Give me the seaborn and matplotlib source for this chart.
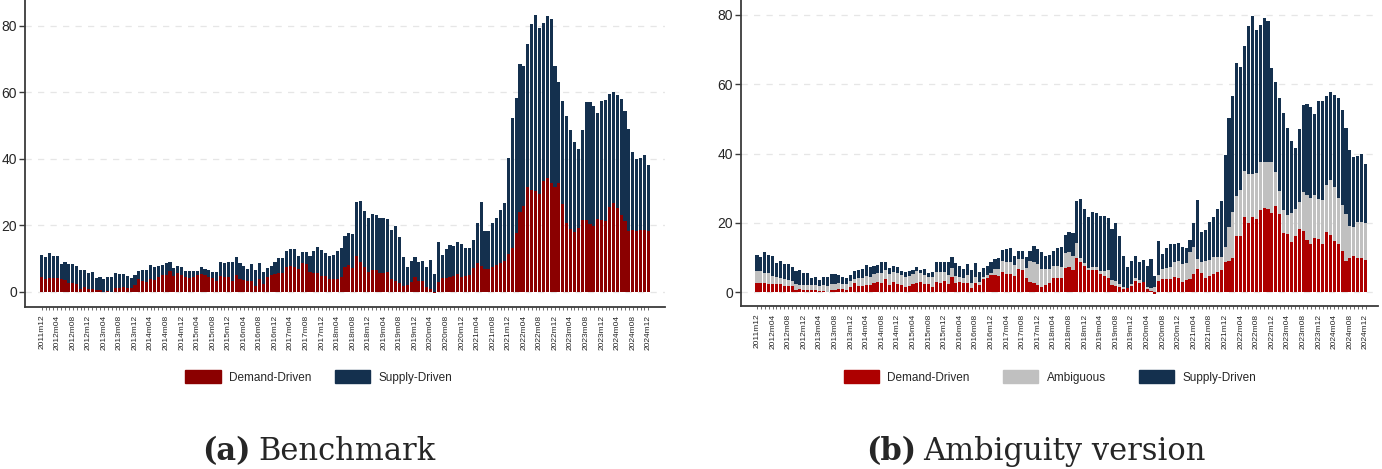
import numpy as np
import pandas as pd
import matplotlib
matplotlib.use("Agg")
import matplotlib.pyplot as plt
from matplotlib.patches import Patch
import seaborn as sns

sns.set_style("white")
plt.rcParams['font.family'] = ['Liberation Sans', 'DejaVu Sans']

# months 2011m12 .. 2024m12
months = pd.period_range("2011-12", "2024-12", freq="M")
month_labels = [f"{p.year}m{p.month:02d}" for p in months]
tick_labels = month_labels[::4]

# (a) Benchmark
bench_demand = [
    4.3, 3.7, 4.2, 4.0, 4.1, 3.8, 3.6, 2.5, 2.6, 2.3,
    0.9, 1.3, 0.7, 0.7, 0.5, 0.6, -0.1, 0.2, -0.2, 1.1,
    1.2, 1.5, 1.2, 1.1, 2.0, 3.7, 3.2, 2.9, 3.7, 3.6,
    4.3, 5.0, 5.1, 6.3, 4.8, 5.7, 5.1, 4.3, 4.2, 4.5,
    4.9, 5.3, 4.9, 4.5, 4.1, 3.3, 4.8, 4.4, 4.5, 3.2,
    5.0, 3.7, 3.6, 3.2, 3.2, 1.6, 3.7, 2.4, 4.3, 5.0,
    5.4, 5.6, 5.6, 7.4, 7.8, 7.5, 6.9, 8.6, 8.4, 6.0,
    5.7, 5.7, 4.7, 4.8, 3.8, 3.7, 3.9, 4.4, 7.5,
    7.9, 7.2, 10.8, 9.0, 7.5, 6.0, 6.6, 6.6, 5.6, 5.7,
    6.0, 3.7, 3.2, 2.5, 1.8, 2.0, 2.9, 4.5, 3.2, 3.3,
    1.4, 0.9, -0.4, 3.0, 4.1, 4.1, 4.3, 4.8, 5.3, 4.4,
    4.8, 5.0, 7.2, 8.7, 7.8, 6.7, 6.9, 7.5, 7.9, 8.7,
    9.1, 11.4, 13.2, 17.5, 23.9, 25.9, 31.5, 30.6, 30.2, 29.5,
    33.3, 34.1, 32.7, 31.4, 32.7, 26.5, 20.7, 18.8, 17.8, 19.2,
    21.7, 21.5, 20.4, 19.8, 21.8, 21.5, 21.2, 25.4, 26.7, 25.2,
    23.2, 21.2, 18.3, 18.6, 18.1, 18.6, 18.5, 18.3,
]
bench_supply = [
    6.6, 6.8, 7.3, 6.7, 6.6, 4.5, 5.3, 5.7, 5.6, 5.3,
    5.6, 5.2, 5.0, 5.2, 3.7, 3.8, 3.8, 4.3, 4.5, 4.4,
    4.1, 3.7, 3.4, 3.1, 3.0, 2.5, 3.3, 3.7, 4.2, 3.9,
    3.4, 3.0, 3.6, 2.6, 2.4, 2.0, 2.3, 1.9, 1.9, 1.7,
    1.4, 2.2, 1.8, 2.1, 1.7, 2.7, 4.0, 4.2, 4.4, 5.7,
    5.4, 4.9, 4.1, 3.5, 5.1, 5.0, 4.9, 3.6, 2.9, 2.8,
    3.5, 4.4, 4.5, 4.9, 4.9, 5.4, 3.8, 3.3, 3.6, 4.7,
    6.5, 7.6, 7.8, 6.8, 6.9, 7.2, 8.4, 8.7, 9.2,
    9.6, 10.0, 16.2, 18.2, 16.9, 16.2, 16.8, 16.4, 16.6, 16.5,
    15.8, 14.8, 16.7, 13.8, 8.6, 5.4, 6.2, 5.9, 5.6, 6.0,
    6.1, 8.5, 5.3, 11.8, 6.9, 8.6, 9.6, 9.0, 9.5, 9.8,
    8.3, 8.0, 8.3, 11.9, 19.3, 11.4, 11.3, 13.2, 14.4, 15.8,
    17.6, 28.9, 39.0, 40.8, 44.6, 41.9, 43.0, 49.8, 53.0, 49.7,
    47.6, 48.8, 49.2, 36.5, 30.2, 30.7, 32.1, 29.7, 27.3, 23.7,
    26.9, 35.4, 36.5, 36.0, 31.8, 35.8, 36.4, 33.9, 33.4, 33.9,
    34.7, 33.0, 30.5, 23.4, 21.9, 21.7, 22.5, 19.8,
]

# (b) Ambiguity version
amb_demand = [
    2.8, 2.6, 2.6, 2.5, 2.5, 2.5, 2.3, 1.9, 1.9, 1.8,
    0.6, 0.9, 0.8, 0.8, 0.8, 0.7, 0.3, 0.5, 0.2, 0.7,
    0.7, 1.0, 0.9, 0.8, 1.4, 2.8, 1.9, 1.9, 2.1, 2.0,
    2.6, 2.9, 2.8, 3.8, 2.1, 3.0, 2.3, 2.1, 1.6, 1.7,
    2.3, 2.8, 3.0, 2.5, 2.5, 1.6, 3.0, 2.8, 3.3, 2.5,
    4.3, 2.8, 2.9, 2.7, 2.8, 1.2, 2.8, 2.2, 3.9, 4.2,
    5.0, 4.9, 4.8, 5.9, 5.4, 5.4, 4.8, 6.8, 6.3, 4.1,
    3.0, 2.8, 2.0, 1.4, 2.0, 2.7, 4.1, 4.1, 4.0, 7.1,
    7.4, 6.3, 9.8, 8.8, 7.7, 6.3, 6.3, 6.5, 5.2, 4.7,
    4.2, 2.1, 1.9, 1.4, 1.0, 1.1, 1.8, 3.3, 2.8, 3.0,
    1.0, 0.4, -0.4, 3.3, 3.8, 3.8, 3.9, 4.3, 4.2, 3.0,
    3.5, 3.8, 5.3, 6.6, 5.5, 4.2, 4.6, 5.2, 5.8, 6.3,
    8.7, 9.0, 10.0, 16.1, 16.3, 21.6, 20.1, 21.6, 21.1, 23.7,
    24.2, 24.0, 23.0, 24.9, 22.6, 17.0, 16.8, 14.4, 16.1, 18.2,
    17.7, 15.1, 14.0, 15.7, 15.4, 13.9, 17.4, 16.4, 14.8, 13.8,
    11.9, 9.1, 10.0, 10.5, 9.8, 9.9, 9.4,
]
amb_ambiguous = [
    3.4, 3.4, 3.1, 3.0, 2.2, 1.8, 1.8, 1.8, 1.6, 1.6,
    1.7, 1.3, 1.2, 1.2, 1.2, 1.4, 1.5, 1.6, 1.7, 1.6,
    1.7, 1.7, 1.4, 1.5, 1.9, 1.0, 2.1, 2.3, 2.6, 2.4,
    2.7, 2.8, 2.9, 2.6, 3.3, 2.8, 3.4, 2.9, 2.9, 3.1,
    2.9, 3.2, 2.5, 2.4, 2.0, 2.9, 2.9, 3.1, 2.6, 2.4,
    2.7, 2.0, 1.6, 1.4, 2.2, 1.6, 1.7, 0.9, 0.6, 0.9,
    0.5, 1.8, 1.9, 3.0, 3.4, 3.2, 3.1, 2.9, 3.3, 3.0,
    6.1, 5.9, 6.1, 5.3, 4.6, 4.1, 3.5, 3.5, 3.4, 4.2,
    4.1, 4.3, 4.3, 1.2, 0.7, 0.6, 0.9, 0.8, 0.9, 1.4,
    2.1, 1.5, 1.4, 1.0, 0.6, 0.2, 0.6, 0.7, 0.8, 0.1,
    0.6, 0.7, 1.6, 1.7, 2.8, 3.1, 3.5, 4.5, 4.8, 5.2,
    5.0, 7.7, 7.7, 3.1, 3.3, 4.9, 4.8, 4.9, 4.5, 4.0,
    4.5, 9.7, 13.2, 11.7, 13.2, 13.4, 13.9, 12.6, 13.2, 13.9,
    13.4, 13.6, 14.6, 9.8, 6.7, 6.6, 5.5, 8.4, 8.0, 7.7,
    11.1, 13.0, 13.1, 12.3, 11.6, 12.8, 13.6, 15.9, 15.7, 13.3,
    13.3, 13.5, 9.1, 8.4, 10.6, 10.4, 10.6,
]
amb_supply = [
    4.6, 4.3, 5.8, 5.2, 5.8, 4.1, 4.8, 4.4, 4.6, 4.0,
    3.9, 4.1, 3.5, 3.5, 2.2, 2.2, 1.7, 2.2, 2.4, 3.1,
    2.9, 2.4, 2.0, 1.9, 1.6, 2.4, 2.5, 2.4, 3.1, 3.0,
    2.3, 2.2, 2.9, 2.3, 1.7, 1.8, 1.5, 1.2, 1.4, 1.4,
    1.2, 1.3, 0.9, 1.9, 1.1, 1.4, 2.8, 2.7, 2.8, 3.8,
    3.3, 3.6, 3.1, 2.7, 3.1, 3.7, 3.9, 2.8, 2.6, 2.4,
    3.3, 2.9, 3.3, 3.2, 3.7, 4.2, 2.6, 2.2, 2.3, 3.2,
    2.9, 4.6, 4.4, 4.9, 3.9, 3.9, 4.4, 5.3, 5.6, 5.2,
    5.8, 6.4, 12.3, 16.8, 15.7, 14.9, 16.0, 15.5, 15.8, 15.8,
    15.0, 14.7, 16.6, 13.9, 8.8, 6.1, 6.6, 6.4, 5.1, 6.2,
    5.9, 8.4, 3.2, 9.8, 4.5, 5.8, 6.4, 5.0, 5.2, 4.9,
    4.2, 3.7, 6.9, 16.8, 8.5, 8.9, 10.9, 11.7, 13.7, 16.0,
    26.5, 31.6, 33.5, 38.4, 35.6, 36.0, 42.7, 45.5, 41.4, 39.5,
    41.6, 40.6, 27.1, 26.0, 26.7, 28.2, 25.0, 20.9, 17.6, 21.1,
    25.2, 26.1, 26.2, 23.5, 28.1, 28.4, 25.7, 25.4, 26.4, 28.8,
    27.3, 24.8, 21.9, 20.2, 18.9, 19.5, 16.9,
]

RED_A = "#8b0000"
RED_B = "#ad0000"
GRAY = "#c0c0c0"
NAVY = "#14304e"

W, H = 1382, 469
fig = plt.figure(figsize=(W / 100, H / 100), dpi=100)
ax_a = fig.add_axes([25 / W, 162 / H, 640 / W, 307 / H])
ax_b = fig.add_axes([741 / W, 163 / H, 637 / W, 306 / H])

idx = np.arange(len(months))


def layer(ax, heights, color):
    sns.barplot(x=idx, y=heights, color=color, saturation=1, width=0.8,
                errorbar=None, linewidth=0, ax=ax)


# overlapping cumulative bars -> stacked look (negative demand hangs below 0)
d = np.array(bench_demand)
s = np.array(bench_supply)
layer(ax_a, np.clip(d, 0, None) + s, NAVY)
layer(ax_a, d, RED_A)

d = np.array(amb_demand)
a = np.array(amb_ambiguous)
s = np.array(amb_supply)
layer(ax_b, np.clip(d, 0, None) + a + s, NAVY)
layer(ax_b, np.clip(d, 0, None) + a, GRAY)
layer(ax_b, d, RED_B)


def style(ax, xlim, ylim):
    ax.set_xlim(*xlim)
    ax.set_ylim(*ylim)
    ax.set_yticks([0, 20, 40, 60, 80])
    ax.yaxis.grid(True, color="#e6e6e6", linestyle=(0, (5, 5)), linewidth=0.9)
    ax.xaxis.grid(False)
    ax.set_axisbelow(True)
    for side in ["top", "right"]:
        ax.spines[side].set_visible(False)
    for side in ["left", "bottom"]:
        ax.spines[side].set_color("#3a3a3a")
        ax.spines[side].set_linewidth(1.3)
    ax.set_xticks(range(0, len(months), 4))
    ax.set_xticklabels(tick_labels, rotation=90, fontsize=6)
    ax.set_xticks(range(len(months)), minor=True)
    ax.tick_params(axis="x", which="both", length=2, width=0.6, pad=3.5,
                   color="#555555", bottom=True)
    ax.tick_params(axis="y", length=4.3, width=1, pad=1.5, labelsize=10,
                   color="#3a3a3a", left=True)
    ax.set_xlabel("")
    ax.set_ylabel("")


style(ax_a, (-4.3, 160.3), (-4.6, 87.7))
style(ax_b, (-4.1, 159.2), (-3.95, 84.3))

leg_kw = dict(loc="center", frameon=False, fontsize=8.5, handlelength=3.0,
              handleheight=1.3, handletextpad=0.7)
ax_a.legend(handles=[Patch(color=RED_A, label="Demand-Driven"),
                     Patch(color=NAVY, label="Supply-Driven")],
            ncol=2, columnspacing=2.0, bbox_to_anchor=(0.459, -0.228), **leg_kw)
ax_b.legend(handles=[Patch(color=RED_B, label="Demand-Driven"),
                     Patch(color=GRAY, label="Ambiguous"),
                     Patch(color=NAVY, label="Supply-Driven")],
            ncol=3, columnspacing=2.8, bbox_to_anchor=(0.485, -0.232), **leg_kw)

# panel captions
cap = dict(fontsize=22, family="DejaVu Serif", va="baseline")
fig.text(251 / W, 9 / H, "(a)", ha="right", weight="bold", **cap)
fig.text(258 / W, 9 / H, "Benchmark", ha="left", **cap)
fig.text(916 / W, 9 / H, "(b)", ha="right", weight="bold", **cap)
fig.text(923 / W, 9 / H, "Ambiguity version", ha="left", **cap)

fig.savefig("out.png", dpi=100)
